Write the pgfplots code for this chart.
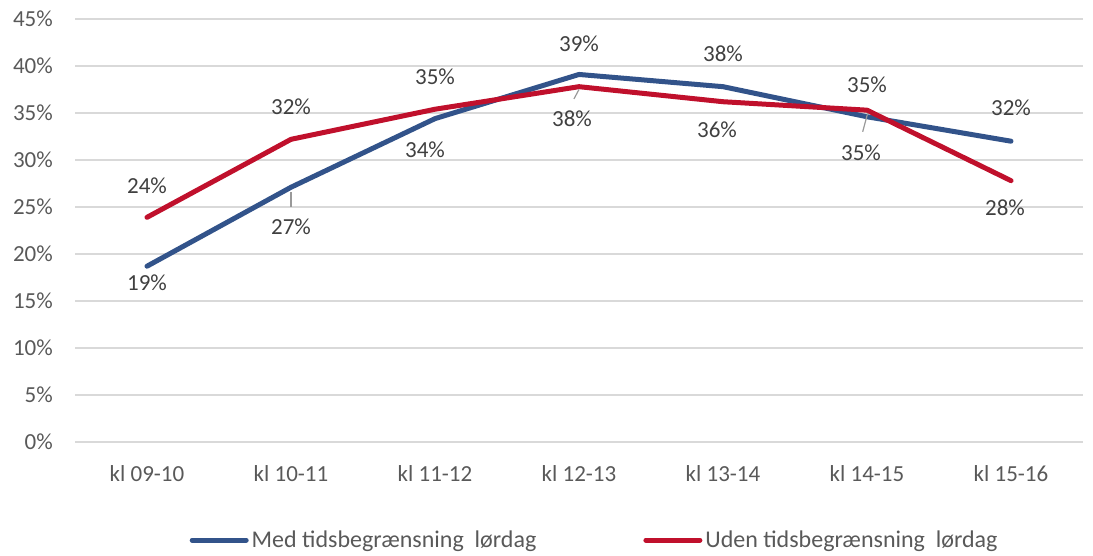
\documentclass[border=0pt]{standalone}
\usepackage{pgfplots}
\pgfplotsset{compat=1.18}
\usepackage{pgfplotstable}
\usepackage{fontspec}
\setmainfont{Carlito}
\definecolor{cblue}{RGB}{50,83,138}
\definecolor{cred}{RGB}{192,16,44}
\definecolor{gridc}{RGB}{217,217,217}
\definecolor{tickc}{RGB}{89,89,89}
\definecolor{labc}{RGB}{64,64,64}
\pgfplotstableread{
x y dx dy
0 18.7 0 -17
1 27.1 0 -39
2 34.4 -10 -31
3 39.1 0 31
4 37.8 0 33
5 34.6 -6 -36
6 32.0 0 33
}\blue
\pgfplotstableread{
x y dx dy
0 23.9 0 32
1 32.2 0 33
2 35.4 0 32
3 37.8 -7 -32
4 36.2 -6 -28
5 35.3 0 25
6 27.8 -6 -27
}\red
\begin{document}
\begin{tikzpicture}
\begin{axis}[
  name=ax,
  scale only axis,
  width=1008pt, height=423pt,
  xmin=-0.5, xmax=6.5, ymin=0, ymax=45,
  axis line style={draw=none},
  xtick={0,...,6},
  xticklabels={kl 09-10,kl 10-11,kl 11-12,kl 12-13,kl 13-14,kl 14-15,kl 15-16},
  ytick={0,5,...,45},
  yticklabel={\pgfmathprintnumber{\tick}\%},
  /pgf/number format/assume math mode=true,
  major tick length=0pt,
  tick style={draw=none},
  ymajorgrids,
  grid style={gridc, line width=1.3pt},
  ticklabel style={font=\fontsize{23}{27}\selectfont, text=tickc},
  yticklabel style={inner sep=0pt, xshift=-22pt},
  xticklabel style={inner sep=0pt, anchor=base, yshift=-39pt},
  legend style={at={(0.516,-0.232)}, anchor=center, draw=none, fill=none,
     legend columns=2, font=\fontsize{24}{28}\selectfont, text=tickc,
     /tikz/every even column/.append style={column sep=104pt},
     inner sep=0pt, nodes={inner xsep=3pt}},
  legend cell align=left,
  legend image code/.code={\draw[#1, line width=5pt, line cap=round] (0pt,0pt) -- (54pt,0pt);},
  nodes near coords={\pgfmathprintnumber[fixed,precision=0]{\pgfplotspointmeta}\%},
  point meta=y,
  visualization depends on={\thisrow{dx}\as\dx},
  visualization depends on={\thisrow{dy}\as\dy},
  every node near coord/.append style={anchor=center, xshift=\dx pt, yshift=\dy pt,
     font=\fontsize{23}{27}\selectfont, text=labc, inner sep=0pt},
  clip=false,
]
\addplot[cblue, line width=5pt, line join=round, line cap=round, mark=none] table[x=x,y=y] {\blue};
\addlegendentry{Med tidsbegrænsning\ \ lørdag}
\addplot[cred, line width=5pt, line join=round, line cap=round, mark=none] table[x=x,y=y] {\red};
\addlegendentry{Uden tidsbegrænsning\ \ lørdag}
\draw[gray!80, line width=1.2pt] (axis cs:1.0,26.6) -- (axis cs:1.0,25.0);
\draw[gray!80, line width=1.2pt] (axis cs:3.0,37.5) -- (axis cs:2.965,36.5);
\draw[gray!80, line width=1.2pt] (axis cs:5.005,35.0) -- (axis cs:4.97,33.0);
\end{axis}
\pgfresetboundingbox
\path[use as bounding box] ([xshift=-75pt,yshift=-113pt]ax.south west) rectangle ([xshift=10pt,yshift=19pt]ax.north east);
\end{tikzpicture}
\end{document}
